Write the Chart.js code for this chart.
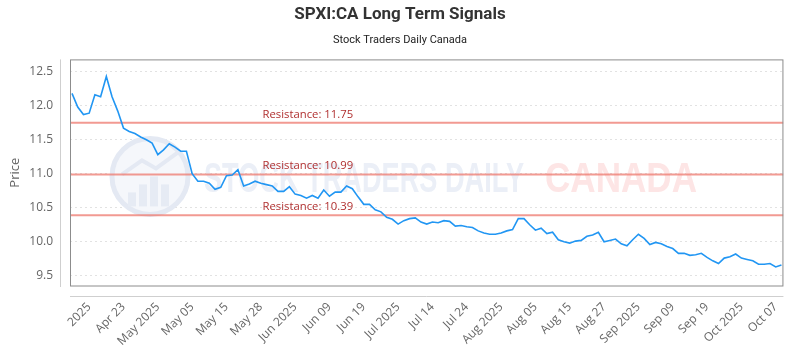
<!DOCTYPE html>
<html><head><meta charset="utf-8">
<script src="https://cdn.jsdelivr.net/npm/chart.js@4.4.1/dist/chart.umd.min.js"></script>
<style>html,body{margin:0;padding:0;background:#fff;}#wrap{width:800px;height:350px;}</style>
</head><body><div id="wrap"><canvas id="c" width="800" height="350"></canvas></div>
<script>
// ---- data ----
const prices = [
12.18,11.98,11.87,11.89,12.16,12.13,12.43,12.13,11.92,11.67,
11.62,11.59,11.54,11.50,11.45,11.28,11.35,11.44,11.39,11.33,
11.33,11.00,10.89,10.89,10.86,10.77,10.80,10.97,10.98,11.06,
10.82,10.85,10.89,10.86,10.84,10.82,10.74,10.74,10.81,10.70,
10.68,10.64,10.68,10.64,10.76,10.67,10.73,10.73,10.82,10.78,
10.66,10.55,10.55,10.47,10.44,10.36,10.33,10.26,10.31,10.34,
10.35,10.29,10.26,10.29,10.28,10.31,10.30,10.23,10.24,10.22,
10.21,10.16,10.13,10.11,10.11,10.13,10.16,10.18,10.34,10.34,
10.25,10.17,10.20,10.12,10.14,10.03,10.00,9.98,10.01,10.02,
10.08,10.10,10.14,10.00,10.02,10.04,9.97,9.94,10.03,10.11,
10.05,9.96,9.99,9.97,9.93,9.90,9.83,9.83,9.80,9.81,
9.83,9.77,9.72,9.68,9.76,9.78,9.82,9.76,9.74,9.72,
9.67,9.67,9.68,9.63,9.66
];
const xTickIndex = [3,9,15,21,27,33,39,45,51,57,63,69,75,81,87,93,99,105,111,117,123];
const xTickLabels = ["2025","Apr 23","May 2025","May 05","May 15","May 28","Jun 2025","Jun 09","Jun 19","Jul 2025","Jul 14","Jul 24","Aug 2025","Aug 05","Aug 15","Aug 27","Sep 2025","Sep 09","Sep 19","Oct 2025","Oct 07"];
const yTicks = [9.5,10.0,10.5,11.0,11.5,12.0,12.5];
const resistanceLevels = [11.75,10.99,10.39];
const resistanceLabelIndex = 33.3;
const xMin = -0.35, xMax = 124.35;
const yMin = 9.35, yMax = 12.68;

// ---- plugins ----
const watermark = {
  id: 'watermark',
  beforeDatasetsDraw(chart) {
    const {ctx, chartArea: a} = chart;
    ctx.save();
    // logo
    const cx = a.left + 80, cy = a.top + 117, r = 38;
    ctx.beginPath(); ctx.arc(cx, cy, r, 0, Math.PI * 2);
    ctx.fillStyle = '#f5f7fb'; ctx.fill();
    ctx.lineWidth = 5; ctx.strokeStyle = '#e4e9f3'; ctx.stroke();
    ctx.fillStyle = '#e6ebf4';
    const bars = [[-22, 14], [-11, 22], [0, 30], [11, 22]];
    bars.forEach(b => ctx.fillRect(cx + b[0], cy + 30 - b[1], 8, b[1]));
    ctx.beginPath(); ctx.moveTo(cx - 28, cy - 2); ctx.lineTo(cx - 8, cy - 16); ctx.lineTo(cx + 6, cy - 8); ctx.lineTo(cx + 28, cy - 24);
    ctx.lineWidth = 4; ctx.strokeStyle = '#e4e9f3'; ctx.stroke();
    // text
    ctx.font = 'bold 42px "Liberation Sans"';
    ctx.textBaseline = 'alphabetic';
    const t1 = 'STOCK TRADERS DAILY', t2 = 'CANADA';
    const w1 = ctx.measureText(t1).width, w2 = ctx.measureText(t2).width;
    ctx.save(); ctx.translate(a.left + 134, a.top + 133); ctx.scale(320 / w1, 1);
    ctx.fillStyle = '#ebeff7'; ctx.fillText(t1, 0, 0); ctx.restore();
    ctx.save(); ctx.translate(a.left + 475, a.top + 133); ctx.scale(152 / w2, 1);
    ctx.fillStyle = '#fde5e5'; ctx.fillText(t2, 0, 0); ctx.restore();
    ctx.restore();
  }
};
const resLabels = {
  id: 'resLabels',
  afterDatasetsDraw(chart) {
    const {ctx, scales: {x, y}} = chart;
    ctx.save();
    ctx.font = '11.3px "Open Sans"';
    ctx.fillStyle = '#b03030';
    ctx.textAlign = 'left'; ctx.textBaseline = 'alphabetic';
    resistanceLevels.forEach(v => {
      ctx.fillText('Resistance: ' + v.toFixed(2), x.getPixelForValue(resistanceLabelIndex), y.getPixelForValue(v) - 5);
    });
    ctx.restore();
  }
};
const frame = {
  id: 'frame',
  afterDraw(chart) {
    const {ctx, chartArea: a} = chart;
    ctx.save();
    ctx.lineWidth = 1;
    ctx.strokeStyle = '#8c8c8c';
    ctx.strokeRect(a.left + 0.5, a.top + 0.5, a.width - 1, a.height - 0.5);
    ctx.strokeStyle = '#cfcfcf';
    ctx.beginPath();
    ctx.moveTo(a.left - 9.5, a.top); ctx.lineTo(a.left - 9.5, a.bottom + 1);
    ctx.moveTo(a.left, a.bottom + 10.5); ctx.lineTo(a.right, a.bottom + 10.5);
    ctx.stroke();
    ctx.restore();
  }
};

const datasets = [
  {
    data: prices.map((v, i) => ({x: i, y: v})),
    borderColor: 'rgb(33,150,243)', borderWidth: 1.6, pointRadius: 0, tension: 0, order: 0
  }
].concat(resistanceLevels.map(v => ({
  data: [{x: xMin, y: v}, {x: xMax, y: v}],
  borderColor: 'rgba(238,120,110,0.75)', borderWidth: 2, pointRadius: 0, order: 1
})));

new Chart(document.getElementById('c'), {
  type: 'line',
  data: {datasets},
  options: {
    responsive: false, animation: false, devicePixelRatio: 1,
    layout: {padding: {left: 10, right: 10, top: 0, bottom: 0}},
    plugins: {
      legend: {display: false}, tooltip: {enabled: false},
      title: {display: true, text: 'SPXI:CA Long Term Signals', color: '#333',
        font: {family: 'Roboto', size: 17, weight: 'bold', lineHeight: 1.2},
        padding: {top: 4.8, bottom: 3.5}},
      subtitle: {display: true, text: 'Stock Traders Daily Canada', color: '#222',
        font: {family: 'Roboto', size: 11, lineHeight: 1.2},
        padding: {top: 4.5, bottom: 13}},
    },
    scales: {
      x: {
        type: 'linear', min: xMin, max: xMax,
        grid: {display: false, drawTicks: false},
        border: {display: false},
        afterBuildTicks: s => { s.ticks = xTickIndex.map(v => ({value: v})); },
        afterFit: s => { s.height = 64; },
        ticks: {autoSkip: false, minRotation: 45, maxRotation: 45, padding: 14, color: '#666',
          font: {family: '"Open Sans"', size: 12},
          callback: v => xTickLabels[xTickIndex.indexOf(v)]}
      },
      y: {
        min: yMin, max: yMax,
        grid: {color: '#e2e2e2', drawTicks: false},
        border: {display: false, dash: [2, 3]},
        afterBuildTicks: s => { s.ticks = yTicks.map(v => ({value: v})); },
        afterFit: s => { s.width = 60; },
        ticks: {padding: 17, color: '#666', font: {family: '"Open Sans"', size: 12},
          callback: v => Number(v).toFixed(1)},
        title: {display: true, text: 'Price', color: '#666', font: {family: '"Open Sans"', size: 13},
          padding: {top: -2.8, bottom: 0}}
      }
    }
  },
  plugins: [watermark, resLabels, frame]
});
</script></body></html>
